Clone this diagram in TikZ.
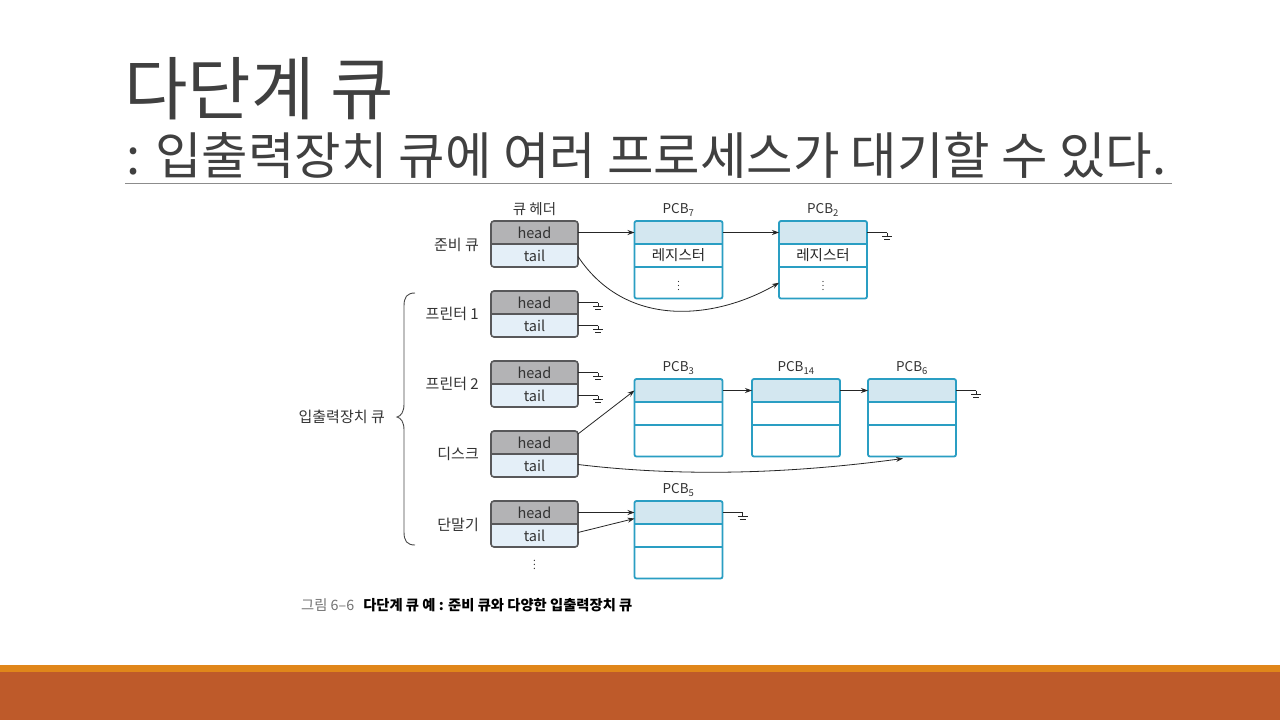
\documentclass[tikz,border=0pt]{standalone}
\usepackage{fontspec}
\setmainfont{Noto Sans CJK KR}
\usetikzlibrary{arrows.meta,calc}
\definecolor{hdgray}{HTML}{B3B3B5}
\definecolor{tlblue}{HTML}{E4EFF8}
\definecolor{bdgray}{HTML}{58585A}
\definecolor{pcbteal}{HTML}{2A9EC3}
\definecolor{pcbfill}{HTML}{D3E7F0}
\definecolor{titlegray}{HTML}{404040}
\definecolor{bandA}{HTML}{E0861A}
\definecolor{bandB}{HTML}{BE5A2A}
\tikzset{
  cell/.style={minimum width=87pt, minimum height=23pt, inner sep=0pt, outer sep=0pt,
    font=\fontsize{14.5}{16}\selectfont, text=black!80},
  pcbcell/.style={minimum width=88pt, minimum height=23pt, inner sep=0pt, outer sep=0pt,
    font=\fontsize{14.5}{16}\selectfont, text=black!85},
  lbl/.style={inner sep=0pt, font=\fontsize{13.5}{15}\selectfont, text=black!80},
  qlbl/.style={inner sep=0pt, anchor=east, font=\fontsize{15}{17}\selectfont, text=black!80},
  conn/.style={draw=black!85, line width=0.8pt, -{Stealth[length=7pt,width=5pt]}},
  gline/.style={draw=black!85, line width=0.8pt},
  gnd/.pic={\draw[black!85, line width=0.8pt] (0,0) -- (0,4) (-5,4) -- (5,4) (-3,6.5) -- (3,6.5);}
}
\newcommand\QH[2]{%
  \begin{scope}
    \clip[rounded corners=3pt] (491,#2) rectangle (578,#2+46);
    \fill[hdgray] (491,#2) rectangle (578,#2+23);
    \fill[tlblue] (491,#2+23) rectangle (578,#2+46);
  \end{scope}
  \draw[bdgray, line width=1.6pt, rounded corners=3pt] (491,#2) rectangle (578,#2+46);
  \draw[bdgray, line width=1.4pt] (491,#2+23) -- (578,#2+23);
  \node[cell] (#1h) at (534.5,#2+11.5) {head};
  \node[cell] (#1t) at (534.5,#2+34.5) {tail};
}
\newcommand\PCB[6]{%
  \fill[pcbfill, rounded corners=2pt] (#2,#3) rectangle ++(88,23);
  \draw[pcbteal, line width=1.8pt, rounded corners=2pt] (#2,#3) rectangle ++(88,77.5);
  \draw[pcbteal, line width=1.8pt] (#2,#3+23) -- ++(88,0) (#2,#3+46) -- ++(88,0);
  \node[pcbcell] (#1a) at (#2+44,#3+11.5) {};
  \node[pcbcell] (#1b) at (#2+44,#3+34.5) {#5};
  \node[pcbcell, minimum height=31.5pt] (#1c) at (#2+44,#3+61.75) {#6};
  \node[lbl] (#1l) at (#2+44,#3-11) {PCB\textsubscript{#4}};
}
\begin{document}
\begin{tikzpicture}[x=1pt,y=-1pt]
\useasboundingbox (0,0) rectangle (1280,720);
\fill[white] (0,0) rectangle (1280,720);
% title
\node[anchor=west, inner sep=0pt, text=titlegray, font=\fontsize{69}{76}\selectfont] (title) at (124,89) {다단계 큐};
\node[anchor=west, inner sep=0pt, text=titlegray, font=\fontsize{50.5}{58}\selectfont] (subtitle) at (126,155) {: 입출력장치 큐에 여러 프로세스가 대기할 수 있다.};
\draw[black!45, line width=1pt] (125,183) -- (1172,183);
% bands
\fill[bandA] (0,665) rectangle (1280,672);
\fill[bandB] (0,672) rectangle (1280,720);
% queue headers
\node[lbl, font=\fontsize{14.5}{16}\selectfont] (qhdr) at (534.5,209) {큐 헤더};
\QH{rdy}{221}
\QH{pa}{291}
\QH{pb}{361}
\QH{dk}{431}
\QH{tm}{501}
\node[qlbl] (lrdy) at (479,245) {준비 큐};
\node[qlbl] (lpa) at (479,314) {프린터 1};
\node[qlbl] (lpb) at (479,384) {프린터 2};
\node[qlbl] (ldk) at (479,454) {디스크};
\node[qlbl] (ltm) at (479,525) {단말기};
\node[lbl, font=\fontsize{10}{12}\selectfont] (more) at (534.5,562) {$\vdots$};
% brace and label
\draw[black!70, line width=0.9pt] (415,293) .. controls (407,293) and (404,297) .. (404,306)
  -- (404,404) .. controls (404,412) and (401,416) .. (397,417)
  .. controls (401,418) and (404,422) .. (404,430)
  -- (404,532) .. controls (404,541) and (407,545) .. (415,545);
\node[qlbl] (lio) at (385,417) {입출력장치 큐};
% PCBs
\PCB{p7}{634.5}{221}{7}{레지스터}{\fontsize{9}{10}\selectfont$\vdots$}
\PCB{p2}{779}{221}{2}{레지스터}{\fontsize{9}{10}\selectfont$\vdots$}
\PCB{p3}{634.5}{379}{3}{}{}
\PCB{p14}{752}{379}{14}{}{}
\PCB{p6}{868}{379}{6}{}{}
\PCB{p5}{634.5}{501}{5}{}{}
% ground coordinates
\coordinate (g2) at ($(p2a.east)+(20,0)$);
\coordinate (g6) at ($(p6a.east)+(20,0)$);
\coordinate (g5) at ($(p5a.east)+(20,0)$);
\coordinate (gpah) at ($(pah.east)+(20,0)$);
\coordinate (gpat) at ($(pat.east)+(20,0)$);
\coordinate (gpbh) at ($(pbh.east)+(20,0)$);
\coordinate (gpbt) at ($(pbt.east)+(20,0)$);
\draw[gline] (p2a.east) -- (g2) pic{gnd};
\draw[gline] (p6a.east) -- (g6) pic{gnd};
\draw[gline] (p5a.east) -- (g5) pic{gnd};
\draw[gline] (pah.east) -- (gpah) pic{gnd};
\draw[gline] (pat.east) -- (gpat) pic{gnd};
\draw[gline] (pbh.east) -- (gpbh) pic{gnd};
\draw[gline] (pbt.east) -- (gpbt) pic{gnd};
% connectors
\draw[conn] (rdyh.east) -- (p7a.west);
\draw[conn] (p7a.east) -- (p2a.west);
\draw[conn] ($(rdyt.east)+(0,1)$) .. controls +(50,75) and +(-60,35) .. (p2c.west);
\coordinate (ds) at ($(dkh.north east)+(0,3)$);
\draw[conn] (ds) -- (p3a.west);
\draw[conn] (p3a.east) -- (p14a.west);
\draw[conn] (p14a.east) -- (p6a.west);
\coordinate (d6) at ($(p6c.south west)+(35,2)$);
\draw[conn] ($(dkt.east)+(0,-1)$) .. controls +(100,12) and +(-120,16) .. (d6);
\draw[conn] (tmh.east) -- (p5a.west);
\coordinate (t5) at ($(p5a.west)+(0,6)$);
\draw[conn] ($(tmt.east)+(0,-3)$) -- (t5);
% caption
\node[anchor=west, inner sep=0pt, font=\fontsize{14.3}{16}\selectfont] (cap) at (301,605)
  {{\color{black!55}그림 6–6}\hspace{9pt}{\bfseries 다단계 큐 예 : 준비 큐와 다양한 입출력장치 큐}};
\end{tikzpicture}
\end{document}
